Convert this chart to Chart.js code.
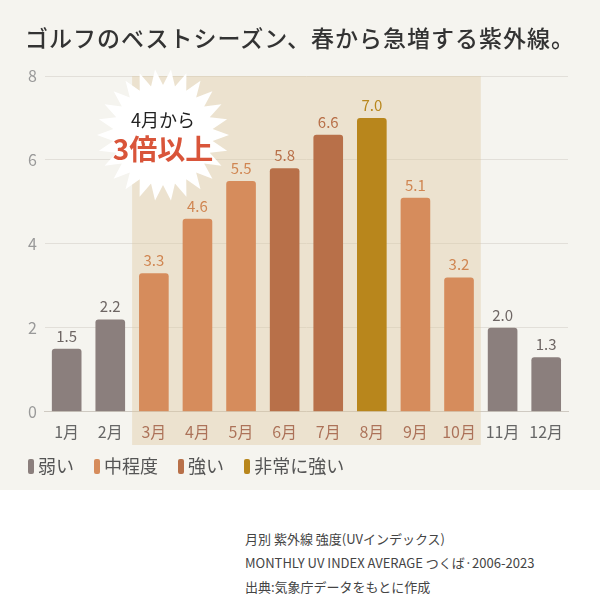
<!DOCTYPE html>
<html>
<head>
<meta charset="utf-8">
<script src="https://cdn.jsdelivr.net/npm/chart.js@4"></script>
<style>
body{margin:0;background:#fff;font-family:"Noto Sans CJK JP",sans-serif;}
#wrap{position:relative;width:600px;height:490px;background:#f5f4ef;}
#titulo{position:absolute;top:20px;left:0;width:600px;text-align:center;font-size:23px;color:#333;letter-spacing:1px;font-weight:500;}
#legenda{position:absolute;top:452px;left:28px;font-size:18px;color:#555;}
#legenda span{margin-right:16px;}
#legenda i{display:inline-block;width:6px;height:15px;border-radius:2px;margin-right:4px;vertical-align:-1px;}
#fonte{position:absolute;top:527px;left:245px;font-size:13px;color:#444;line-height:24px;}
</style>
</head>
<body>
<div id="wrap">
<canvas id="grafico" width="600" height="490"></canvas>
<div id="titulo">ゴルフのベストシーズン、春から急増する紫外線。</div>
<div id="legenda">
<span><i style="background:#8b7f7d"></i>弱い</span>
<span><i style="background:#d68c5c"></i>中程度</span>
<span><i style="background:#b87049"></i>強い</span>
<span><i style="background:#b8861c"></i>非常に強い</span>
</div>
</div>
<div id="fonte">月別 紫外線 強度(UVインデックス)<br>MONTHLY UV INDEX AVERAGE つくば·2006-2023<br>出典:気象庁データをもとに作成</div>
<script>
//DADOS
const meses = ['1月','2月','3月','4月','5月','6月','7月','8月','9月','10月','11月','12月'];
const uv = [1.5, 2.2, 3.3, 4.6, 5.5, 5.8, 6.6, 7.0, 5.1, 3.2, 2.0, 1.3];
const nivel = ['弱い','弱い','中程度','中程度','中程度','強い','強い','非常に強い','中程度','中程度','弱い','弱い'];
const ticksY = [0, 2, 4, 6, 8];

const corBarra = {'弱い':'#8b7f7d','中程度':'#d68c5c','強い':'#b87049','非常に強い':'#b8861c'};
const corTexto = {'弱い':'#6e6664','中程度':'#d08652','強い':'#b87049','非常に強い':'#b8861c'};

//faixa de destaque 3月..10月 + estrela + valores
const extras = {
  id:'extras',
  beforeDatasetsDraw(chart){
    const {ctx, scales:{x,y}} = chart;
    const meio = (x.getPixelForValue(1)-x.getPixelForValue(0))/2;
    const x0 = x.getPixelForValue(2)-meio, x1 = x.getPixelForValue(9)+meio;
    ctx.save();
    ctx.fillStyle = 'rgba(222,200,160,0.4)';
    ctx.fillRect(x0, y.getPixelForValue(8), x1-x0, 445-y.getPixelForValue(8));
    ctx.restore();
  },
  afterDatasetsDraw(chart){
    const {ctx} = chart;
    const meta = chart.getDatasetMeta(0);
    ctx.save();
    ctx.font = '15px "Noto Sans CJK JP"';
    ctx.textAlign = 'center';
    meta.data.forEach((b,i)=>{
      ctx.fillStyle = corTexto[nivel[i]];
      ctx.fillText(uv[i].toFixed(1), b.x, b.y-7);
    });
    //estrela
    const cx = 163, cy = 135, pontas = 26;
    ctx.beginPath();
    for(let k=0;k<pontas*2;k++){
      const r = k%2===0 ? 66 : 50;
      const a = Math.PI*k/pontas;
      ctx.lineTo(cx+r*Math.cos(a), cy+r*Math.sin(a));
    }
    ctx.closePath();
    ctx.fillStyle = '#ffffff';
    ctx.fill();
    ctx.fillStyle = '#222';
    ctx.font = '18px "Noto Sans CJK JP"';
    ctx.fillText('4月から', cx, cy-8);
    ctx.fillStyle = '#d9553a';
    ctx.font = 'bold 28px "Noto Sans CJK JP"';
    ctx.fillText('3倍以上', cx, cy+25);
    ctx.restore();
  }
};

new Chart(document.getElementById('grafico'), {
  type:'bar',
  data:{
    labels: meses,
    datasets:[{
      data: uv,
      backgroundColor: nivel.map(n=>corBarra[n]),
      borderRadius: {topLeft:3, topRight:3},
      borderSkipped: 'bottom',
      barPercentage: 0.68,
      categoryPercentage: 1
    }]
  },
  options:{
    responsive:false,
    animation:false,
    layout:{padding:{top:76, left:20, right:32, bottom:45}},
    plugins:{legend:{display:false}, tooltip:{enabled:false}},
    scales:{
      y:{
        min:0, max:8,
        afterBuildTicks: ax => { ax.ticks = ticksY.map(v=>({value:v})); },
        grid:{color:'#e2dfd9', drawTicks:false},
        border:{display:false},
        ticks:{color:'#999', font:{size:16, family:'Noto Sans CJK JP'}, padding:8}
      },
      x:{
        grid:{display:false},
        border:{color:'#cfcac2'},
        ticks:{
          color: c => (c.index>=2 && c.index<=9) ? '#8b3a2a' : '#666',
          font:{size:16, family:'Noto Sans CJK JP'}
        }
      }
    }
  },
  plugins:[extras]
});
</script>
</body>
</html>
